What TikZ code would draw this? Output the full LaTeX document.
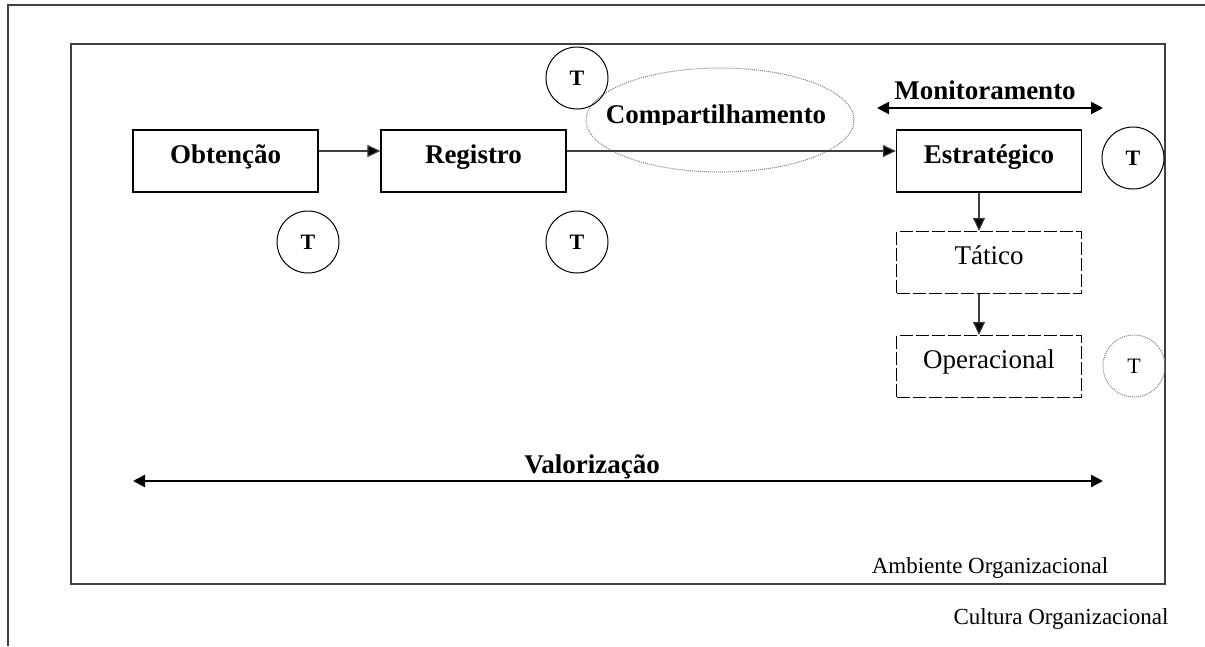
\documentclass[tikz,border=0pt]{standalone}
\usepackage{fontspec}
\setmainfont{Liberation Serif}
\usetikzlibrary{arrows.meta,shapes.geometric}
\tikzset{
  big/.style={font=\fontsize{27}{30}\selectfont},
  bigb/.style={font=\fontsize{27}{30}\selectfont\bfseries},
  small/.style={font=\fontsize{23}{26}\selectfont},
  procbox/.style={draw, line width=1.2pt, minimum width=185pt, minimum height=62pt, inner sep=0pt, text height=0.7em, text depth=0.25em},
  dashbox/.style={procbox, line width=1.1pt, dash pattern=on 13pt off 3pt},
  tcirc/.style={draw, circle, line width=1pt, minimum size=62pt, inner sep=0pt, font=\fontsize{22}{24}\selectfont\bfseries},
  tdot/.style={draw=gray, circle, line width=1pt, dash pattern=on 1pt off 1pt, minimum size=62pt, inner sep=0pt, font=\fontsize{22}{24}\selectfont},
  flow/.style={line width=1.1pt, draw=black!75, -{Triangle[length=13pt,width=12pt,fill=black]}},
  dbl/.style={line width=2.4pt, {Triangle[length=12pt,width=12pt]}-{Triangle[length=12pt,width=12pt]}},
  frame/.style={line width=1.3pt, draw=black!75}
}
\begin{document}
\begin{tikzpicture}[x=1pt,y=-1pt]
\useasboundingbox (0,0) rectangle (1205,646);
% frames
\draw[frame] (8,646) -- (8,5) -- (1205,5);
\draw[frame] (71,44) rectangle (1165,584);
% process boxes
\node[procbox,bigb] (obt) at (225.5,161) {Obtenção};
\node[procbox,bigb] (reg) at (473.5,161) {Registro};
\node[procbox,bigb] (est) at (989,161) {Estratégico};
\node[dashbox,big] (tat) at (989,262.5) {Tático};
\node[dashbox,big] (ope) at (989,366.5) {Operacional};
% compartilhamento ellipse
\node[draw=gray, ellipse, line width=1pt, dash pattern=on 1pt off 1pt, minimum width=268pt, minimum height=104pt] (comp) at (720,120) {};
\begin{scope}
\clip (580,80) rectangle (860,124);
\node[bigb, anchor=base] (compt) at (716,123) {Compartilhamento};
\end{scope}
% connectors
\draw[flow] ([yshift=10pt]obt.east) -- ([yshift=10pt]reg.west);
\draw[flow] ([yshift=10pt]reg.east) -- ([yshift=10pt]est.west);
\draw[flow] ([xshift=-10pt]est.south) -- ([xshift=-10pt]tat.north);
\draw[flow] ([xshift=-10pt]tat.south) -- ([xshift=-10pt]ope.north);
% T circles
\node[tcirc] (t1) at (577,78) {T};
\node[tcirc] (t2) at (308,242) {T};
\node[tcirc] (t3) at (577,242) {T};
\node[tcirc] (t4) at (1133,158) {T};
\node[tdot] (t5) at (1134,366) {T};
% monitoramento
\coordinate (ml) at (877,108);
\coordinate (mr) at (1103,108);
\draw[dbl] (ml) -- (mr);
\node[bigb, anchor=base] (mon) at (985,99) {Monitoramento};
% valorizacao
\coordinate (vl) at (133,481);
\coordinate (vr) at (1103,481);
\draw[dbl] (vl) -- (vr);
\node[bigb, anchor=base] (val) at (592,473) {Valorização};
% labels
\node[small, anchor=base] (amb) at (990,573) {Ambiente Organizacional};
\node[small, anchor=base] (cul) at (1061,624) {Cultura Organizacional};
\end{tikzpicture}
\end{document}
